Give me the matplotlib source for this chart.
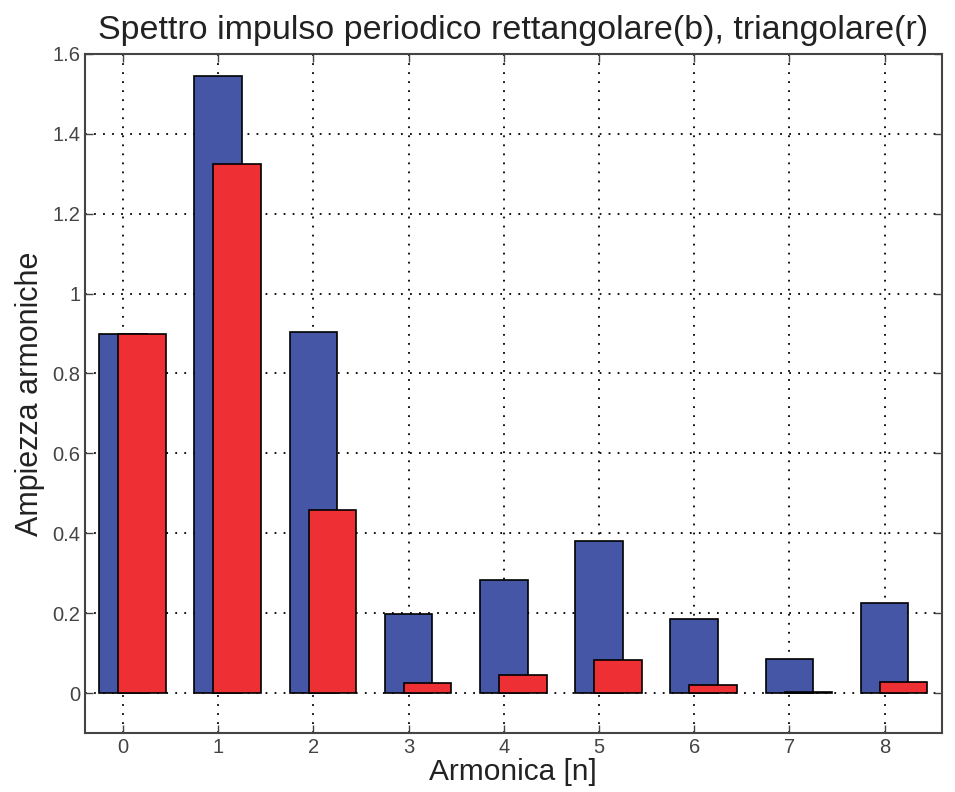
import matplotlib
matplotlib.use("Agg")
import matplotlib.pyplot as plt
import numpy as np

plt.rcParams['font.family'] = ['Liberation Sans', 'DejaVu Sans']

harmonics = [0, 1, 2, 3, 4, 5, 6, 7, 8]
rect_amp = [0.90, 1.545, 0.905, 0.197, 0.283, 0.381, 0.186, 0.085, 0.226]
tri_amp = [0.90, 1.324, 0.459, 0.025, 0.045, 0.083, 0.020, 0.003, 0.028]
y_ticks = [0, 0.2, 0.4, 0.6, 0.8, 1, 1.2, 1.4, 1.6]
y_labels = ["0", "0.2", "0.4", "0.6", "0.8", "1", "1.2", "1.4", "1.6"]


def main():
    fig = plt.figure(figsize=(9.55, 7.92), dpi=100)
    ax = fig.add_axes([0.089, 0.0745, 0.897, 0.8575])

    x = np.array(harmonics)
    ax.bar(x, rect_amp, width=0.5, color="#4556A6", edgecolor="black",
           linewidth=1.2, zorder=3)
    ax.bar(x + 0.2, tri_amp, width=0.5, color="#EE3035", edgecolor="black",
           linewidth=1.2, zorder=4)

    ax.set_xlim(-0.4, 8.6)
    ax.set_ylim(-0.1, 1.6)
    ax.set_xticks(harmonics)
    ax.set_yticks(y_ticks)
    ax.set_yticklabels(y_labels)
    ax.tick_params(direction="in", top=True, right=True, length=6,
                   labelsize=14.5, colors="#444444", width=1)
    ax.grid(True, linestyle=(0, (1, 4)), color="black", linewidth=1.3,
            zorder=1)
    ax.set_axisbelow(True)
    for sp in ax.spines.values():
        sp.set_color("#444444")
        sp.set_linewidth(1.5)

    ax.set_title("Spettro impulso periodico rettangolare(b), triangolare(r)",
                 fontsize=24.5, color="#222222", pad=11)
    ax.set_xlabel("Armonica [n]", fontsize=21.5, color="#222222", labelpad=1)
    ax.set_ylabel("Ampiezza armoniche", fontsize=22, color="#222222",
                  labelpad=5)

    fig.savefig("out.png", dpi=100)


if __name__ == "__main__":
    main()
